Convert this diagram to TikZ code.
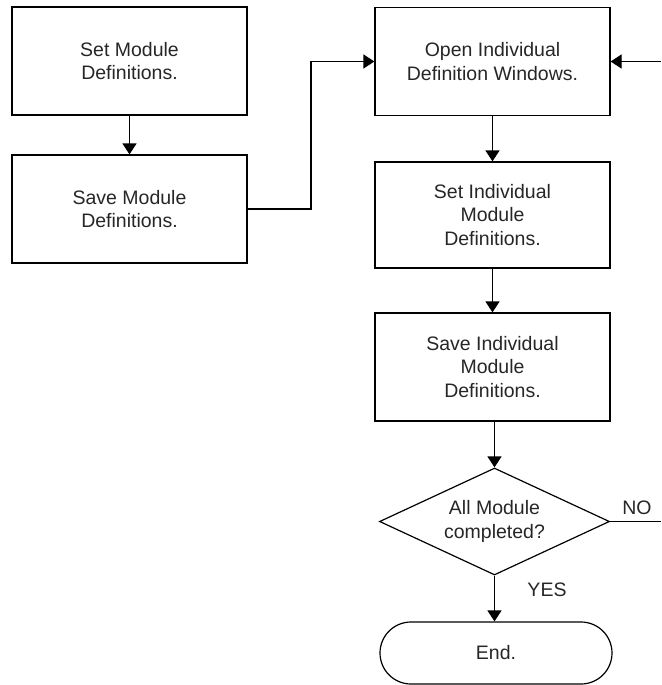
\documentclass[tikz,border=0pt]{standalone}
\usepackage{fontspec}
\setmainfont{Liberation Sans}
\usetikzlibrary{arrows.meta,shapes.geometric,shapes.misc}
\begin{document}
\begin{tikzpicture}[x=1pt,y=-1pt,
  line width=1.2pt,
  every node/.style={font=\fontsize{19.5}{23.5}\selectfont, text=black!85},
  procbox/.style={draw, rectangle, minimum width=235pt, minimum height=108pt, align=center, inner sep=0pt},
  decision/.style={draw, diamond, minimum width=230pt, minimum height=107pt, inner sep=0pt},
  terminal/.style={draw, rounded rectangle, minimum width=232pt, minimum height=62pt, inner sep=0pt},
  flow/.style={-{Triangle[length=11pt,width=14pt]}},
  tag/.style={font=\fontsize{19.5}{23.5}\selectfont}
]
\useasboundingbox (0,0) rectangle (661,685);

% left column
\node[procbox] (setmod)  at (129.5,61)  {Set Module\\Definitions.};
\node[procbox] (savemod) at (129.5,209) {Save Module\\Definitions.};

% right column
\node[procbox] (openwin) at (492.5,61.5) {Open Individual\\Definition Windows.};
\node[procbox, minimum height=106pt] (setind)  at (492.5,215) {Set Individual\\Module\\Definitions.};
\node[procbox] (saveind) at (492.5,367) {Save Individual\\Module\\Definitions.};
\node[decision, label={[align=center, tag]center:All Module\\completed?}] (done) at (494.5,521.5) {};
\node[terminal] (finish) at (496,653) {End.};

% loop-back ends
\coordinate (noend) at (661,521.5);
\coordinate (backin) at (661,61.5);

% connectors
\draw[flow] (setmod) -- (savemod);
\draw[flow] (savemod.east) -- (311,209) |- (openwin.west);
\draw[flow] (openwin) -- (setind);
\draw[flow] (setind) -- (saveind);
\draw[flow] (saveind.south -| done.north) -- (done.north);
\draw[flow] (done.south) -- (done.south |- finish.north);
\draw (done.east) -- (noend);
\draw[flow] (backin) -- (openwin.east);

% branch labels
\node[tag] (nolbl)  at (637,508) {NO};
\node[tag] (yeslbl) at (547,590) {YES};
\end{tikzpicture}
\end{document}
